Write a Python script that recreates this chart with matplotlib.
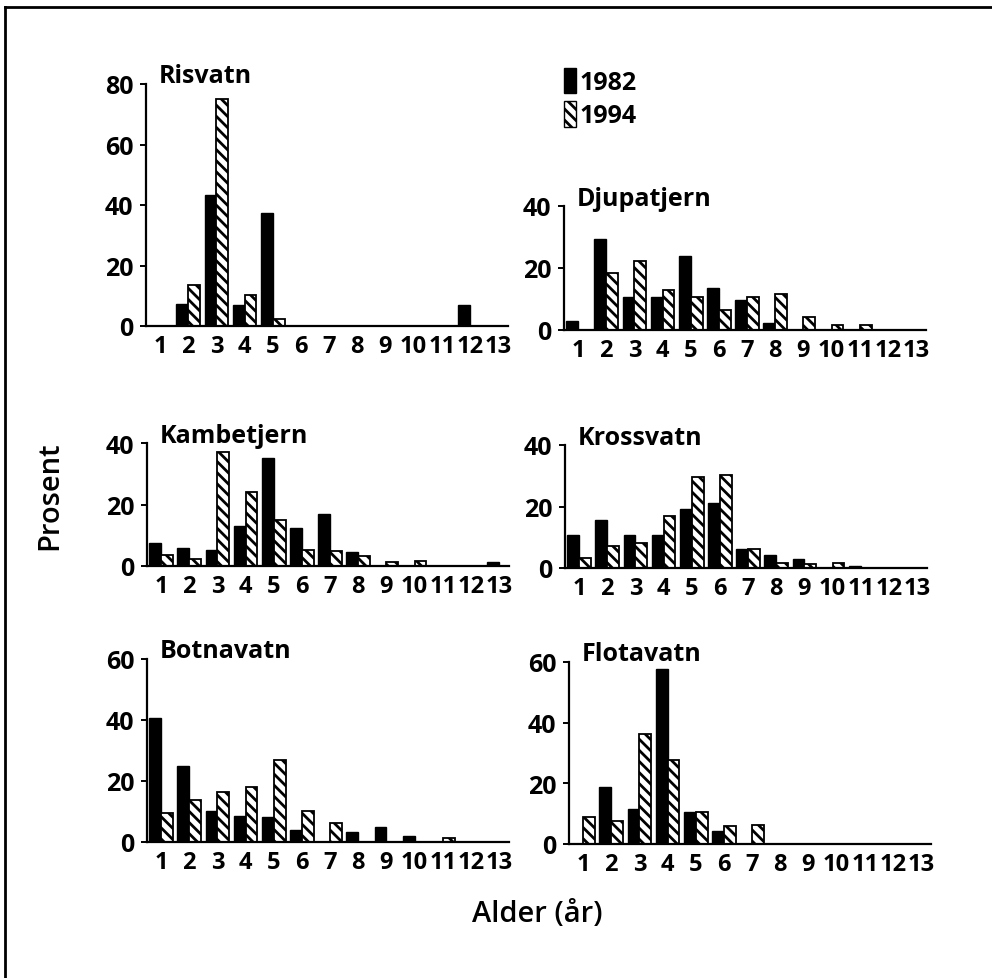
import numpy as np
import matplotlib
matplotlib.use('Agg')
import matplotlib.pyplot as plt
from matplotlib.lines import Line2D
from matplotlib.patches import Patch

plt.rcParams['font.family'] = ['Open Sans', 'DejaVu Sans']
plt.rcParams['hatch.linewidth'] = 2.0

# age classes (years)
ages = np.arange(1, 14)
age_labels = [str(a) for a in ages]

# percent per age class, 1982 and 1994
risvatn_82 = [0, 7.3, 43.3, 7.1, 37.5, 0, 0, 0, 0, 0, 0, 6.8, 0]
risvatn_94 = [0, 13.4, 75.2, 10.3, 2.4, 0, 0, 0, 0, 0, 0, 0, 0]
djupatjern_82 = [3.0, 29.4, 10.5, 10.5, 23.8, 13.6, 9.6, 2.1, 0, 0, 0, 0, 0]
djupatjern_94 = [0, 18.4, 22.3, 12.9, 10.6, 6.4, 10.6, 11.7, 4.1, 1.7, 1.7, 0, 0]
kambetjern_82 = [7.6, 6.0, 5.1, 12.9, 35.2, 12.3, 16.9, 4.7, 0, 0, 0, 0, 1.4]
kambetjern_94 = [3.6, 2.4, 37.1, 24.0, 15.0, 5.1, 4.9, 3.1, 1.3, 1.6, 0, 0, 0]
krossvatn_82 = [10.6, 15.7, 10.6, 10.6, 19.2, 21.1, 6.3, 4.3, 3.0, 0, 0.8, 0, 0]
krossvatn_94 = [3.4, 7.0, 8.1, 17.0, 29.5, 30.1, 6.1, 1.6, 1.4, 1.6, 0, 0, 0]
botnavatn_82 = [40.6, 24.8, 10.3, 8.5, 8.2, 3.8, 0, 3.3, 4.8, 1.9, 0, 0, 0]
botnavatn_94 = [9.4, 13.9, 16.5, 18.0, 27.0, 10.1, 6.1, 0, 0, 0, 1.2, 0, 0]
flotavatn_82 = [0, 18.8, 11.5, 57.8, 10.4, 4.3, 0, 0, 0, 0, 0, 0, 0]
flotavatn_94 = [8.9, 7.7, 36.1, 27.6, 10.4, 5.8, 6.3, 0, 0, 0, 0, 0, 0]

W, H = 992, 979
fig = plt.figure(figsize=(W / 100, H / 100), dpi=100)

# (name, 1982, 1994, yticks, left px, top px, bottom px)
panels = [
    ('Risvatn', risvatn_82, risvatn_94, [0, 20, 40, 60, 80], 146, 85, 327),
    ('Djupatjern', djupatjern_82, djupatjern_94, [0, 20, 40], 564, 207, 331),
    ('Kambetjern', kambetjern_82, kambetjern_94, [0, 20, 40], 147, 444, 567),
    ('Krossvatn', krossvatn_82, krossvatn_94, [0, 20, 40], 565, 446, 569),
    ('Botnavatn', botnavatn_82, botnavatn_94, [0, 20, 40, 60], 147, 660, 843),
    ('Flotavatn', flotavatn_82, flotavatn_94, [0, 20, 40, 60], 569, 663, 845),
]
axw = 362
bw = 0.42

for name, v82, v94, yt, lpx, tpx, bpx in panels:
    ax = fig.add_axes([lpx / W, 1 - bpx / H, axw / W, (bpx - tpx) / H])
    ax.bar(ages - bw / 2, v82, width=bw, color='black', edgecolor='black', linewidth=1)
    ax.bar(ages + bw / 2, v94, width=bw, color='white', edgecolor='black',
           linewidth=1.3, hatch='\\\\\\')
    ax.set_xlim(0.5, 13.35)
    ax.set_ylim(0, yt[-1])
    ax.set_yticks(yt)
    ax.set_xticks(ages)
    ax.set_xticklabels(age_labels)
    for s in ['top', 'right']:
        ax.spines[s].set_visible(False)
    for s in ['left', 'bottom']:
        ax.spines[s].set_linewidth(1.6)
    ax.tick_params(axis='x', length=0, pad=6, labelsize=17)
    ax.tick_params(axis='y', length=4, width=1.4, pad=5, labelsize=18)
    for lab in ax.get_xticklabels() + ax.get_yticklabels():
        lab.set_fontweight('bold')
    ax.text(0.035, 1.01, name, transform=ax.transAxes, ha='left', va='baseline',
            fontsize=18, fontweight='bold')

# legend
handles = [Patch(facecolor='black', edgecolor='black', label='1982'),
           Patch(facecolor='white', edgecolor='black', hatch='\\\\\\', label='1994')]
leg = fig.legend(handles=handles, loc='upper left', bbox_to_anchor=(541 / W, 1 - 46 / H),
                 frameon=False, handlelength=0.5, handleheight=1.2, handletextpad=0.15,
                 labelspacing=0.25, prop={'weight': 'bold', 'size': 18})

fig.text(50 / W, 1 - 496 / H, 'Prosent', rotation=90, ha='center', va='center',
         fontsize=21, fontweight='semibold')
fig.text(537 / W, 1 - 915 / H, 'Alder (år)', ha='center', va='center',
         fontsize=21, fontweight='semibold')

# frame (top and left edges visible)
fig.add_artist(Line2D([5 / W, 1], [1 - 8 / H, 1 - 8 / H], color='black', linewidth=2,
                      transform=fig.transFigure))
fig.add_artist(Line2D([5 / W, 5 / W], [0, 1 - 8 / H], color='black', linewidth=2,
                      transform=fig.transFigure))

fig.savefig('out.png', dpi=100)
